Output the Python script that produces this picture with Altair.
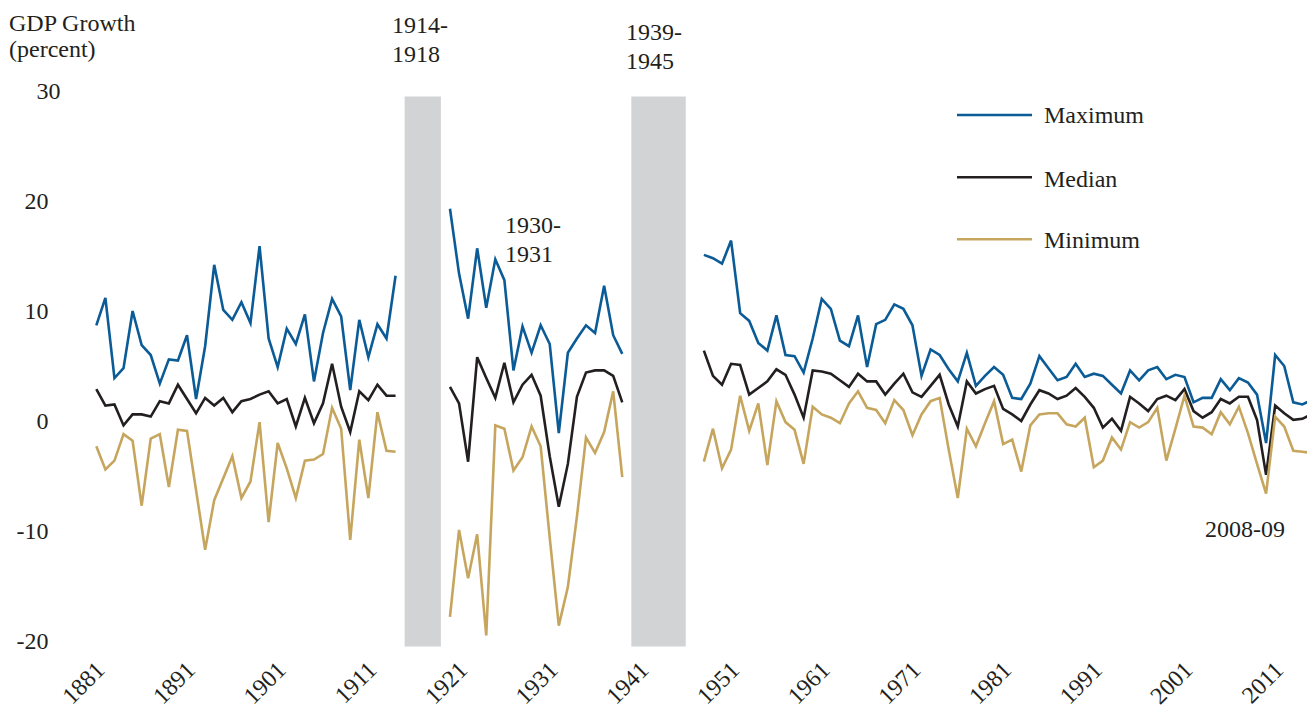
import altair as alt
import pandas as pd

FONT = "Liberation Serif"
TEXT_COLOR = "#231f20"

series_names = ["Maximum", "Median", "Minimum"]
series_colors = ["#0b5b96", "#231f20", "#c6a65e"]

# segment start years (gaps during the wars)
seg_starts = [1880, 1919, 1947]

max1 = [8.7, 11.2, 3.9, 4.8, 10.0, 6.9, 6.0, 3.4, 5.6, 5.5, 7.8, 2.0, 6.8, 14.2, 10.1, 9.2, 10.8,
        8.9, 15.9, 7.5, 4.9, 8.4, 7.0, 9.7, 3.6, 8.0, 11.1, 9.5, 2.8, 9.2, 5.8, 8.8, 7.5, 13.2]
med1 = [2.9, 1.4, 1.5, -0.4, 0.6, 0.6, 0.4, 1.8, 1.6, 3.3, 2.0, 0.7, 2.1, 1.4, 2.1, 0.8, 1.8,
        2.0, 2.4, 2.7, 1.6, 2.0, -0.5, 2.1, -0.2, 1.6, 5.2, 1.3, -1.0, 2.7, 1.9, 3.3, 2.3, 2.3]
min1 = [-2.3, -4.4, -3.6, -1.2, -1.8, -7.7, -1.6, -1.2, -6.0, -0.8, -0.9, -6.3, -11.7, -7.2, -5.2,
        -3.2, -7.0, -5.5, -0.1, -9.2, -2.0, -4.3, -7.0, -3.6, -3.5, -3.0, 1.2, -0.7, -10.8, -1.7,
        -7.0, 0.8, -2.7, -2.8]

max2 = [19.3, 13.4, 9.3, 15.7, 10.3, 14.7, 12.8, 4.6, 8.6, 6.2, 8.7, 7.0, -1.1, 6.2, 7.5, 8.7,
        8.0, 12.3, 7.8, 6.1]
med2 = [3.1, 1.6, -3.7, 5.8, 3.9, 2.1, 5.3, 1.7, 3.3, 4.2, 2.3, -3.2, -7.8, -3.9, 2.2, 4.4, 4.6,
        4.6, 4.1, 1.7]
min2 = [-17.8, -9.9, -14.3, -10.3, -19.5, -0.4, -0.7, -4.5, -3.3, -0.5, -2.3, -10.6, -18.6, -15.1,
        -8.7, -1.5, -2.9, -1.0, 2.7, -5.1]

max3 = [15.1, 14.8, 14.3, 16.4, 9.8, 9.1, 7.1, 6.4, 9.6, 6.0, 5.9, 4.4, 7.5, 11.1, 10.2, 7.3, 6.8,
        9.6, 4.9, 8.8, 9.2, 10.6, 10.2, 8.7, 4.1, 6.5, 6.0, 4.7, 3.6, 6.2, 3.2, 4.1, 4.9, 4.2,
        2.1, 2.0, 3.4, 5.9, 4.8, 3.7, 4.0, 5.2, 4.0, 4.3,
        4.1, 3.3, 2.5, 4.6, 3.7, 4.6, 4.9, 3.8, 4.2, 4.0,
        1.7, 2.1, 2.1, 3.8, 2.8, 3.9, 3.5, 2.4, -2.0, 6.0,
        5.0, 1.7, 1.5, 1.9, 1.2]
med3 = [6.4, 4.1, 3.3, 5.2, 5.1, 2.4, 3.0, 3.6, 4.7, 4.2, 2.4, 0.3, 4.6, 4.5, 4.3, 3.7, 3.1, 4.3,
        3.6, 3.6, 2.4, 3.4, 4.3, 2.6, 2.2, 3.2, 4.2, 1.5, -0.5, 3.6, 2.5, 2.9, 3.2, 1.1,
        0.6, 0.0, 1.5, 2.8, 2.5, 2.0, 2.3, 3.0, 2.2, 1.2,
        -0.6, 0.2, -0.9, 2.2, 1.6, 0.9, 2.0, 2.3, 1.9, 2.9,
        0.9, 0.3, 0.8, 2.0, 1.6, 2.2, 2.2, 0.1, -4.9, 1.4,
        0.7, 0.1, 0.2, 0.6, 1.5]
min3 = [-3.7, -0.7, -4.3, -2.6, 2.3, -0.9, 1.6, -4.0, 1.8, -0.1, -0.8, -3.9, 1.3, 0.6, 0.3, -0.2,
        1.6, 2.7, 1.2, 1.0, -0.2, 1.9, 1.0, -1.3, 0.6, 1.8, 2.1, -2.6, -7.0, -0.7, -2.3, -0.2,
        1.8, -2.1,
        -1.7, -4.6, -0.4, 0.6, 0.7, 0.7, -0.3, -0.5, 0.3, -4.2,
        -3.6, -1.5, -2.6, -0.1, -0.6, -0.1, 1.2, -3.6, -0.7, 2.3,
        -0.5, -0.6, -1.2, 0.8, -0.3, 1.3, -1.1, -3.9, -6.6, 0.4,
        -0.5, -2.7, -2.8, -2.9, 1.0]

band_start = [1914, 1939]
band_end = [1918, 1945]
band_top = [29.5, 29.5]
band_bottom = [-20.5, -20.5]

x_ticks = [1881, 1891, 1901, 1911, 1921, 1931, 1941, 1951, 1961, 1971, 1981, 1991, 2001, 2011]
y_ticks = [-20, -10, 0, 10, 20, 30]

annotations = ["1914-\n1918", "1939-\n1945", "1930-\n1931", "2008-09"]
y_title = ["GDP Growth", "(percent)"]

# ---- build table
segments = [(max1, med1, min1), (max2, med2, min2), (max3, med3, min3)]
rows = []
for seg_i, (start, vals) in enumerate(zip(seg_starts, segments)):
    for name, arr in zip(series_names, vals):
        for k, v in enumerate(arr):
            rows.append({"year": start + k, "value": v, "series": name, "segment": seg_i})
df = pd.DataFrame(rows)
bands = pd.DataFrame({"start": band_start, "end": band_end, "top": band_top, "bottom": band_bottom})

W, H = 1227, 561
xscale = alt.Scale(domain=[1878.2, 1878.2 + W / 9.068], nice=False, zero=False)
yscale = alt.Scale(domain=[-21, 30], nice=False, zero=False)

band_layer = alt.Chart(bands).mark_rect(color="#d1d3d4").encode(
    x=alt.X("start:Q", scale=xscale),
    x2="end:Q",
    y=alt.Y("top:Q", scale=yscale),
    y2="bottom:Q",
)

line_layer = alt.Chart(df).mark_line(strokeWidth=2.6, strokeJoin="miter", clip=True).encode(
    x=alt.X("year:Q", scale=xscale, title=None,
            axis=alt.Axis(values=x_ticks, format="d", labelAngle=-45, ticks=False, domain=False,
                          grid=False, labelFont=FONT, labelColor=TEXT_COLOR, labelFontSize=24,
                          labelPadding=19, labelOverlap=False, labelFlush=False,
                          labelBound=False, labelAlign="right", labelBaseline="alphabetic")),
    y=alt.Y("value:Q", scale=yscale, title=None,
            axis=alt.Axis(values=y_ticks, labelExpr="'' + datum.value", ticks=False,
                          domain=False, grid=False, labelFont=FONT, labelColor=TEXT_COLOR,
                          labelFontSize=24, labelPadding=32,
                          labelAlign={"condition": {"test": "datum.value == 30", "value": "center"},
                                      "value": "right"},
                          labelBaseline="middle")),
    color=alt.Color("series:N", scale=alt.Scale(domain=series_names, range=series_colors),
                    legend=None),
    detail="segment:N",
)

layers = [band_layer, line_layer]

# annotation texts (pixel placements relative to the plot area)
ann_pos = [(312, -58), (546, -51), (425, 142), (1125, 446)]
for txt, (px, py) in zip(annotations, ann_pos):
    layers.append(
        alt.Chart(pd.DataFrame({"label": [txt]})).mark_text(
            align="left", baseline="alphabetic", font=FONT, fontSize=24, color=TEXT_COLOR,
            lineBreak="\n", lineHeight=28.5,
        ).encode(x=alt.value(px), y=alt.value(py), text="label:N")
    )

# y title at the top-left corner
for txt, (px, py) in zip(y_title, [(-71, -60), (-71, -34)]):
    layers.append(
        alt.Chart(pd.DataFrame({"label": [txt]})).mark_text(
            align="left", baseline="alphabetic", font=FONT, fontSize=24, color=TEXT_COLOR,
        ).encode(x=alt.value(px), y=alt.value(py), text="label:N")
    )

# legend
leg_y = [24, 86.3, 148.3]
leg_text_y = [32, 96, 157]
for name, col, ly, ty in zip(series_names, series_colors, leg_y, leg_text_y):
    layers.append(
        alt.Chart(pd.DataFrame({"label": [name]})).mark_rule(strokeWidth=2.6, color=col).encode(
            x=alt.value(877), x2=alt.value(952), y=alt.value(ly))
    )
    layers.append(
        alt.Chart(pd.DataFrame({"label": [name]})).mark_text(
            align="left", baseline="alphabetic", font=FONT, fontSize=24, color=TEXT_COLOR,
        ).encode(x=alt.value(964), y=alt.value(ty), text="label:N")
    )

chart = alt.layer(*layers).properties(
    width=W, height=H,
    background="white",
    autosize=alt.AutoSizeParams(type="none"),
    padding={"left": 72, "top": 83, "right": 0, "bottom": 56},
).configure_view(stroke=None).configure_axis(
    labelFont=FONT, labelColor=TEXT_COLOR
)

chart.save("out.html", embed_options={"renderer": "svg", "actions": False})
